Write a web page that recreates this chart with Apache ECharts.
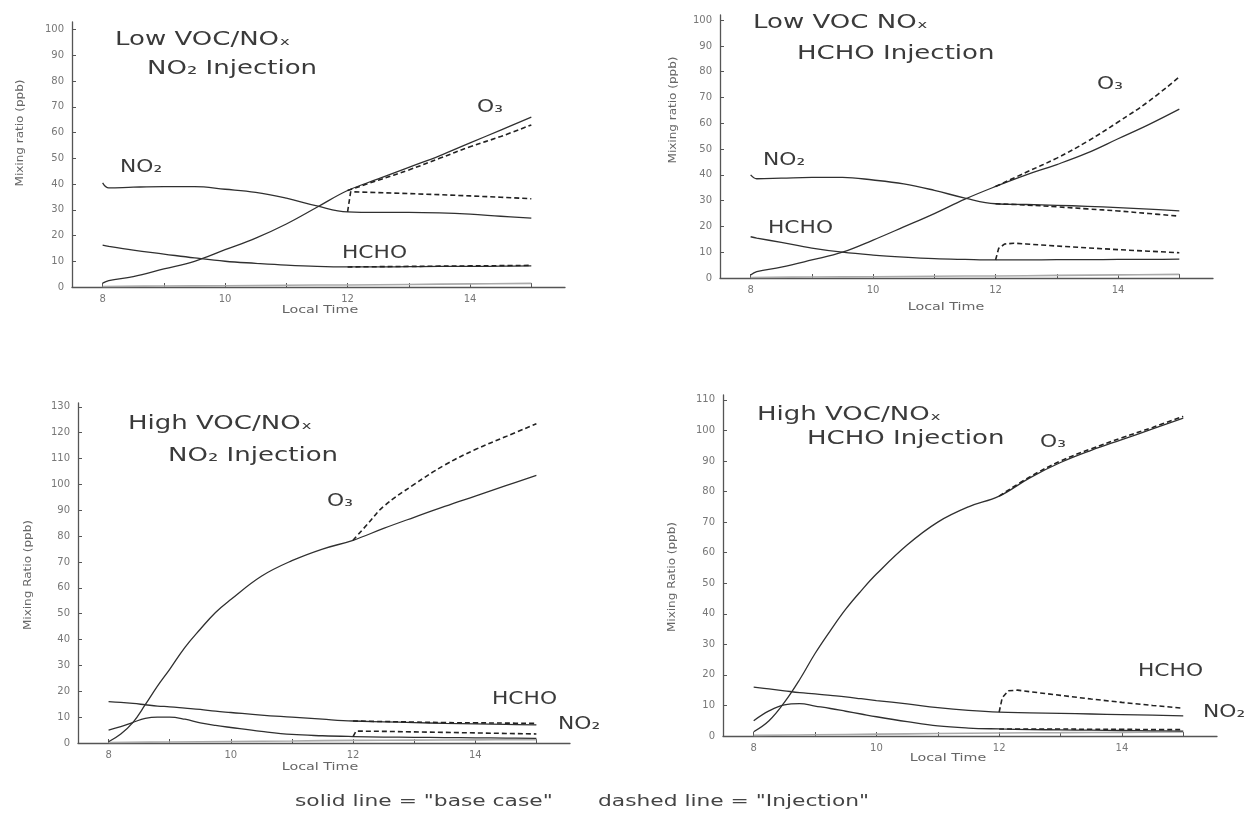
<!DOCTYPE html>
<html><head><meta charset="utf-8">
<script src="https://cdn.jsdelivr.net/npm/echarts@6/dist/echarts.min.js"></script>
<style>html,body{margin:0;padding:0;background:#fff}#c{width:1251px;height:823px}</style>
</head><body><div id="c"></div>
<script>
// ---------- DATA ----------
// time arrays (local time, hours)
const T_A = [8, 8.1, 8.5, 9, 9.5, 10, 10.5, 11, 11.5, 12, 12.5, 13, 13.5, 14, 14.5, 15];
const T_B = [8, 8.2, 8.4, 8.6, 8.8, 9, 9.25, 9.5, 9.75, 10, 10.5, 11, 11.5, 12, 12.5, 13, 13.5, 14, 14.5, 15];
const T_C = [8, 8.25, 8.5, 8.75, 9, 9.25, 9.5, 9.75, 10, 10.5, 11, 11.5, 12, 12.5, 13, 13.5, 14, 14.5, 15];
const T_INJ = [12, 12.5, 13, 13.5, 14, 14.5, 15];
const T_INJ2 = [12, 12.25, 12.5, 13, 13.5, 14, 14.5, 15];
const T_JUMP = [12, 12.05, 12.5, 13, 13.5, 14, 14.5, 15];
const T_JUMP2 = [12, 12.05, 12.15, 12.3, 12.5, 13, 13.5, 14, 14.5, 15];
const T_NO = [8, 9, 10, 11, 12, 13, 14, 15];

// Panel 1: Low VOC/NOx, NO2 injection
const P1_O3_BASE   = [1.5, 2.5, 4, 7, 10, 14.5, 19, 24.5, 31, 37.5, 42, 46.5, 51, 56, 61, 66];
const P1_O3_INJ    = [37.5, 41.5, 45.5, 50, 54.5, 58.5, 63];
const P1_NO2_BASE  = [40.5, 38.5, 38.8, 39, 39, 38, 36.8, 34.5, 31.5, 29.2, 29, 29, 28.8, 28.3, 27.5, 26.8];
const P1_NO2_INJ   = [29.2, 37, 36.7, 36.3, 35.9, 35.4, 34.9, 34.3];
const P1_HCHO_BASE = [16.3, 15.8, 14.3, 12.8, 11.3, 10, 9.2, 8.5, 8, 7.8, 7.8, 7.9, 8, 8, 8.1, 8.2];
const P1_HCHO_INJ  = [7.8, 7.9, 8, 8.1, 8.2, 8.3, 8.4];
const P1_NO        = [0.2, 0.4, 0.5, 0.7, 0.8, 1.0, 1.2, 1.4];

// Panel 2: Low VOC NOx, HCHO injection
const P2_O3_BASE   = [1.2, 2.5, 4.2, 7, 10, 14.7, 19.8, 25, 30.6, 35.5, 40, 44, 48.5, 54, 59.5, 65.5];
const P2_O3_INJ    = [35.5, 41, 46.5, 53, 60.5, 68.5, 78];
const P2_NO2_BASE  = [40, 38.5, 38.7, 39, 39, 38, 36.5, 34, 31, 28.8, 28.5, 28.2, 27.8, 27.3, 26.7, 26];
const P2_NO2_INJ   = [28.8, 28.3, 27.6, 26.8, 26, 25, 24];
const P2_HCHO_BASE = [16, 15.5, 13.8, 11.6, 10, 8.9, 8.1, 7.5, 7.2, 7, 7, 7.1, 7.1, 7.2, 7.2, 7.3];
const P2_HCHO_INJ  = [7, 11.5, 13.2, 13.5, 13.2, 12.4, 11.7, 11, 10.4, 9.8];
const P2_NO        = [0.2, 0.4, 0.5, 0.7, 0.8, 1.0, 1.2, 1.4];

// Panel 3: High VOC/NOx, NO2 injection
const P3_O3_BASE   = [0.5, 3.5, 8, 14.8, 22, 28.5, 37, 44, 50.5, 55.5, 64.5, 70.5, 75, 78.4, 83, 87.3, 91.5, 95.5, 99.5, 103.5];
const P3_O3_INJ    = [78.4, 85, 91.5, 100, 107.5, 113.5, 118.5, 123.5];
const P3_HCHO_BASE = [16, 15.7, 15.3, 14.8, 14.3, 14, 13.5, 13, 12.3, 11.8, 10.8, 10, 9.2, 8.5, 8.2, 7.9, 7.6, 7.4, 7.2, 7];
const P3_HCHO_INJ  = [8.5, 8.3, 8.1, 7.9, 7.8, 7.7, 7.6];
const P3_NO2_BASE  = [5, 6.3, 8, 9.5, 10, 10, 9.2, 7.8, 6.8, 6, 4.5, 3.3, 2.8, 2.5, 2.3, 2.2, 2.1, 2, 1.9, 1.8];
const P3_NO2_INJ   = [2.5, 4.6, 4.5, 4.3, 4.1, 3.9, 3.7, 3.5];
const P3_NO        = [0.2, 0.4, 0.6, 0.8, 1.0, 1.1, 1.2, 1.3];

// Panel 4: High VOC/NOx, HCHO injection
const P4_O3_BASE   = [1.4, 5, 11, 18.5, 27, 34.5, 41.5, 47.5, 53, 62.5, 70, 75, 78.5, 84.5, 89.5, 93.5, 97, 100.5, 104];
const P4_O3_INJ    = [78.5, 84.8, 90, 94, 97.6, 101, 104.6];
const P4_HCHO_BASE = [16, 15.4, 14.8, 14.2, 13.8, 13.3, 12.8, 12.2, 11.6, 10.5, 9.3, 8.4, 7.8, 7.6, 7.4, 7.2, 7, 6.8, 6.6];
const P4_HCHO_INJ  = [7.8, 12.5, 14.8, 15, 14.5, 13.3, 12.1, 11, 10, 9.1];
const P4_NO2_BASE  = [5, 8.2, 10.2, 10.6, 9.8, 9, 8.1, 7.2, 6.3, 4.7, 3.3, 2.6, 2.3, 2.1, 2, 1.9, 1.8, 1.7, 1.6];
const P4_NO2_INJ   = [2.3, 2.3, 2.3, 2.2, 2.2, 2.1, 2.1];
const P4_NO        = [0.2, 0.4, 0.6, 0.8, 1.0, 1.1, 1.2, 1.3];

// tick labels
const X_TICKS = [8, 9, 10, 11, 12, 13, 14, 15];
const X_LABELS = [8, 10, 12, 14];
const Y_100 = [0, 10, 20, 30, 40, 50, 60, 70, 80, 90, 100];
const Y_110 = [0, 10, 20, 30, 40, 50, 60, 70, 80, 90, 100, 110];
const Y_130 = [0, 10, 20, 30, 40, 50, 60, 70, 80, 90, 100, 110, 120, 130];

// text
const TITLES = [
  ['Low VOC/NOₓ', 'NO₂ Injection'],
  ['Low VOC NOₓ', 'HCHO Injection'],
  ['High VOC/NOₓ', 'NO₂ Injection'],
  ['High VOC/NOₓ', 'HCHO Injection']
];
const Y_NAMES = ['Mixing ratio (ppb)', 'Mixing ratio (ppb)', 'Mixing Ratio (ppb)', 'Mixing Ratio (ppb)'];
const X_NAME = 'Local Time';
const FOOTER = ['solid line = "base case"', 'dashed line = "Injection"'];

// ---------- LAYOUT ----------
const FONT = '"DejaVu Sans", "Liberation Sans", sans-serif';
const GRIDS = [
  {left: 72,  top: 22,  width: 493, height: 265, yMax: 103,   ticks: Y_100},
  {left: 720, top: 15,  width: 493, height: 263, yMax: 102,   ticks: Y_100},
  {left: 78,  top: 403, width: 492, height: 340, yMax: 131.5, ticks: Y_130},
  {left: 723, top: 395, width: 494, height: 341, yMax: 111.6, ticks: Y_110}
];
const TITLE_POS = [
  [[115, 40], [147, 69]],
  [[753, 23], [797, 54]],
  [[128, 424], [168, 456]],
  [[757, 415], [807, 439]]
];
const LABELS = [
  ['NO₂', 120, 168], ['O₃', 477, 108], ['HCHO', 342, 254],
  ['NO₂', 763, 161], ['HCHO', 768, 229], ['O₃', 1097, 85],
  ['O₃', 327, 502], ['HCHO', 492, 700], ['NO₂', 558, 725],
  ['O₃', 1040, 443], ['HCHO', 1138, 672], ['NO₂', 1203, 713]
];
const X_NAME_POS = [[320, 310], [946, 307], [320, 767], [948, 758]];
const Y_NAME_POS = [[20, 133], [673, 110], [28, 575], [672, 577]];
const FOOTER_POS = [[295, 802], [598, 802]];

// ---------- BUILD ----------
const zip = (t, v) => t.map((x, i) => [x, v[i]]);
const INK = '#303030';

const grid = [], xAxis = [], yAxis = [], series = [];
GRIDS.forEach((g, i) => {
  grid.push({left: g.left, top: g.top, width: g.width, height: g.height});
  xAxis.push({
    type: 'value', gridIndex: i, min: 7.5, max: 15.55,
    axisLine: {show: true, onZero: false, lineStyle: {color: '#555', width: 1.3}},
    axisTick: {show: true, inside: true, length: 4, customValues: X_TICKS, lineStyle: {color: '#555'}},
    axisLabel: {customValues: X_LABELS, fontSize: 10, color: '#777', fontFamily: FONT, margin: 7},
    splitLine: {show: false}
  });
  yAxis.push({
    type: 'value', gridIndex: i, min: 0, max: g.yMax,
    axisLine: {show: true, lineStyle: {color: '#555', width: 1.3}},
    axisTick: {show: true, inside: true, length: 4, customValues: g.ticks, lineStyle: {color: '#555'}},
    axisLabel: {customValues: g.ticks, fontSize: 10, color: '#777', fontFamily: FONT, margin: 8},
    splitLine: {show: false}
  });
});

function addLine(panel, t, v, kind, jump) {
  const style = kind === 'base' ? {color: INK, width: 1.3, type: 'solid'}
    : kind === 'inj' ? {color: '#222', width: 1.6, type: [5, 3]}
    : {color: '#aaa', width: 1.6, type: 'solid'};
  series.push({
    type: 'line', xAxisIndex: panel, yAxisIndex: panel,
    data: zip(t, v), showSymbol: false, symbol: 'none',
    smooth: jump ? false : 0.4,
    lineStyle: style, silent: true, animation: false,
    z: kind === 'inj' ? 3 : 2
  });
}

// panel 1
addLine(0, T_NO, P1_NO, 'no');
addLine(0, T_A, P1_O3_BASE, 'base');
addLine(0, T_A, P1_NO2_BASE, 'base');
addLine(0, T_A, P1_HCHO_BASE, 'base');
addLine(0, T_INJ, P1_O3_INJ, 'inj');
addLine(0, T_JUMP, P1_NO2_INJ, 'inj', true);
addLine(0, T_INJ, P1_HCHO_INJ, 'inj');
// panel 2
addLine(1, T_NO, P2_NO, 'no');
addLine(1, T_A, P2_O3_BASE, 'base');
addLine(1, T_A, P2_NO2_BASE, 'base');
addLine(1, T_A, P2_HCHO_BASE, 'base');
addLine(1, T_INJ, P2_O3_INJ, 'inj');
addLine(1, T_INJ, P2_NO2_INJ, 'inj');
addLine(1, T_JUMP2, P2_HCHO_INJ, 'inj', true);
// panel 3
addLine(2, T_NO, P3_NO, 'no');
addLine(2, T_B, P3_O3_BASE, 'base');
addLine(2, T_B, P3_HCHO_BASE, 'base');
addLine(2, T_B, P3_NO2_BASE, 'base');
addLine(2, T_INJ2, P3_O3_INJ, 'inj');
addLine(2, T_INJ, P3_HCHO_INJ, 'inj');
addLine(2, T_JUMP, P3_NO2_INJ, 'inj', true);
// panel 4
addLine(3, T_NO, P4_NO, 'no');
addLine(3, T_C, P4_O3_BASE, 'base');
addLine(3, T_C, P4_HCHO_BASE, 'base');
addLine(3, T_C, P4_NO2_BASE, 'base');
addLine(3, T_INJ, P4_O3_INJ, 'inj');
addLine(3, T_JUMP2, P4_HCHO_INJ, 'inj', true);
addLine(3, T_INJ, P4_NO2_INJ, 'inj');

// text graphics
const graphic = [];
function txt(text, x, y, size, opts) {
  opts = opts || {};
  graphic.push({
    type: 'text', x: x, y: y, scaleX: opts.sx || 1.25, rotation: opts.rot || 0, silent: true,
    style: {
      text: text, font: size + 'px ' + FONT, fill: opts.fill || '#3a3a3a',
      textAlign: opts.align || 'left', align: opts.align || 'left',
      textVerticalAlign: 'middle', verticalAlign: 'middle'
    }
  });
}
TITLES.forEach((pair, i) => {
  txt(pair[0], TITLE_POS[i][0][0], TITLE_POS[i][0][1], 20, {sx: 1.3});
  txt(pair[1], TITLE_POS[i][1][0], TITLE_POS[i][1][1], 20, {sx: 1.3});
});
LABELS.forEach(l => txt(l[0], l[1], l[2], 17, {sx: 1.28}));
X_NAME_POS.forEach(p => txt(X_NAME, p[0], p[1], 11, {sx: 1.3, align: 'center', fill: '#666'}));
Y_NAMES.forEach((n, i) => txt(n, Y_NAME_POS[i][0], Y_NAME_POS[i][1], 10, {sx: 1.2, align: 'center', rot: Math.PI / 2, fill: '#666'}));
FOOTER.forEach((f, i) => txt(f, FOOTER_POS[i][0], FOOTER_POS[i][1], 16, {sx: 1.36, fill: '#444'}));

const chart = echarts.init(document.getElementById('c'), null, {renderer: 'canvas'});
chart.setOption({
  backgroundColor: '#ffffff',
  animation: false,
  grid: grid, xAxis: xAxis, yAxis: yAxis, series: series, graphic: graphic
});
</script></body></html>
